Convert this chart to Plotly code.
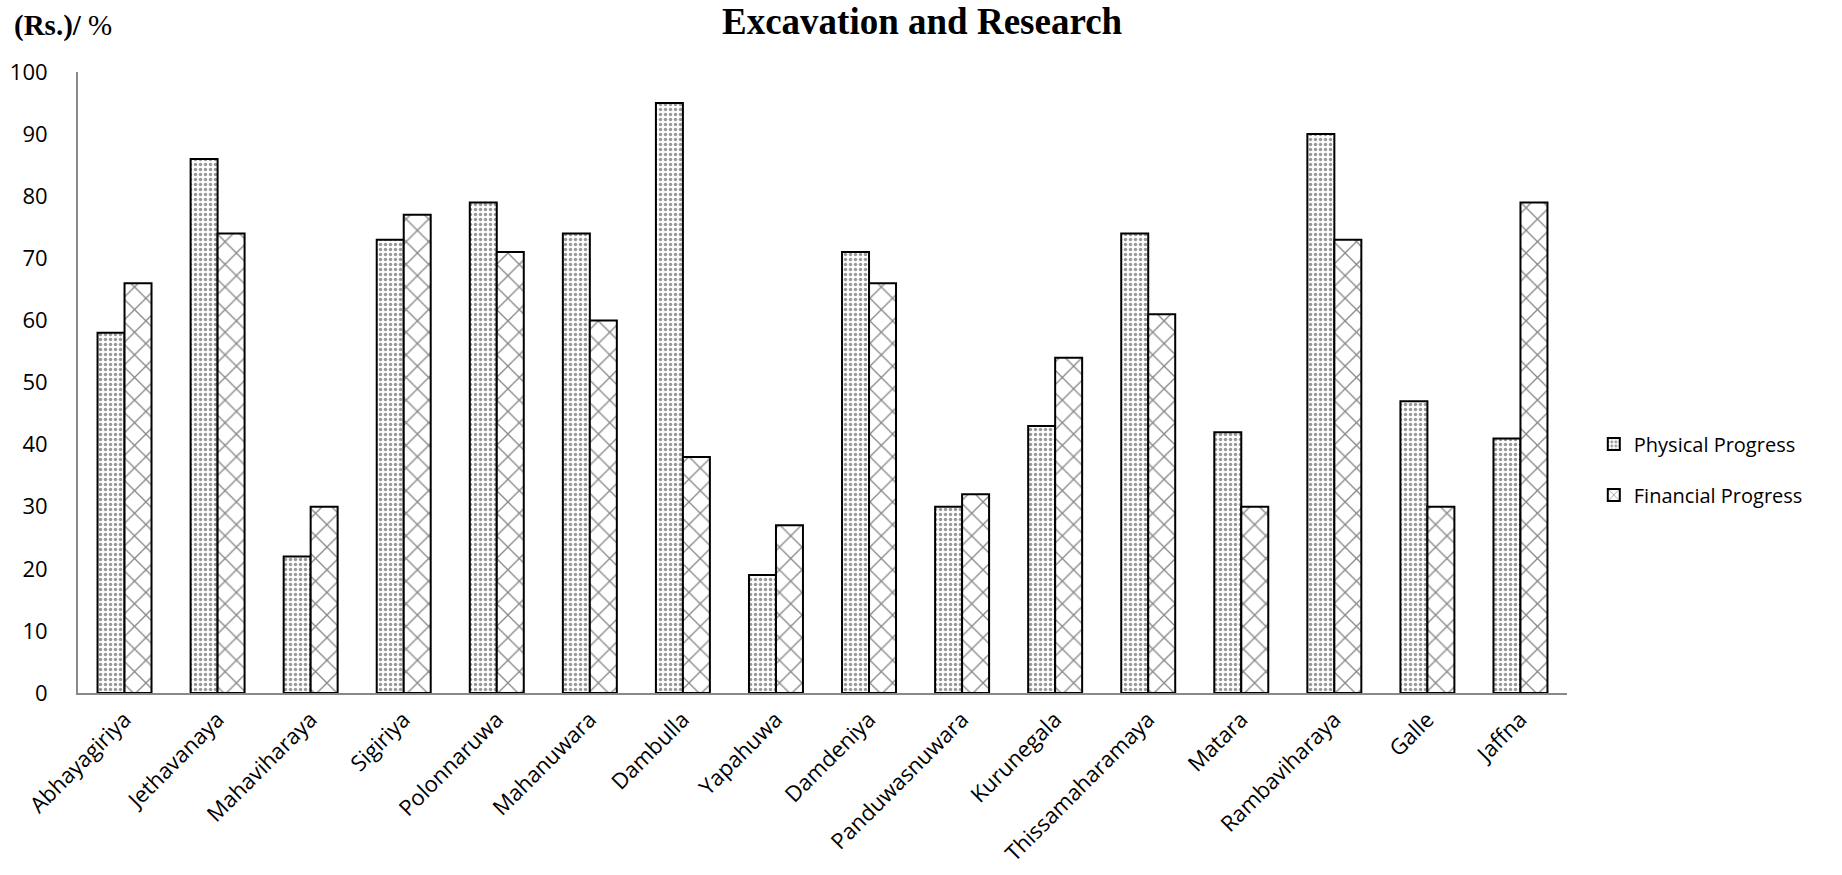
import plotly.graph_objects as go

# Sites and progress percentages
sites = ["Abhayagiriya", "Jethavanaya", "Mahaviharaya", "Sigiriya", "Polonnaruwa",
         "Mahanuwara", "Dambulla", "Yapahuwa", "Damdeniya", "Panduwasnuwara",
         "Kurunegala", "Thissamaharamaya", "Matara", "Rambaviharaya", "Galle", "Jaffna"]
physical_progress = [58, 86, 22, 73, 79, 74, 95, 19, 71, 30, 43, 74, 42, 90, 47, 41]
financial_progress = [66, 74, 30, 77, 71, 60, 38, 27, 66, 32, 54, 61, 30, 73, 30, 79]
y_ticks = [0, 10, 20, 30, 40, 50, 60, 70, 80, 90, 100]

FONT = "Open Sans"

fig = go.Figure()
fig.add_trace(go.Bar(
    x=sites, y=physical_progress, name="Physical Progress", legendgroup="phys",
    marker=dict(color="white", line=dict(color="black", width=2),
                pattern=dict(shape=".", fgcolor="#333333", bgcolor="white",
                             size=5, solidity=0.38)),
))
fig.add_trace(go.Bar(
    x=sites, y=financial_progress, name="Financial Progress", legendgroup="fin",
    marker=dict(color="white", line=dict(color="black", width=2),
                pattern=dict(shape="x", fgcolor="#111111", bgcolor="white",
                             size=16, solidity=0.16)),
))

fig.update_layout(
    width=1842, height=875,
    barmode="group", bargap=0.42, bargroupgap=0,
    plot_bgcolor="white", paper_bgcolor="white",
    margin=dict(l=78, r=275, t=72, b=182),
    font=dict(family=FONT, size=20, color="black"),
    showlegend=True,
    legend=dict(x=1.018, y=0.36, xanchor="left", yanchor="middle",
                font=dict(family=FONT, size=20), tracegroupgap=22,
                traceorder="grouped", itemsizing="constant"),
    xaxis=dict(showline=True, linecolor="#898989", linewidth=2,
               showgrid=False, ticks="", tickangle=-45,
               ticklabelstandoff=3, automargin=False,
               tickfont=dict(family=FONT, size=22)),
    yaxis=dict(range=[0, 100], tickvals=y_ticks, showline=True,
               linecolor="#898989", linewidth=2, showgrid=False,
               ticks="", ticklabelstandoff=24, automargin=False,
               tickfont=dict(family=FONT, size=22), zeroline=False),
    annotations=[
        dict(text="<b>Excavation and Research</b>", xref="paper", yref="paper",
             x=(922 - 78) / 1489, y=1 + (72 - 21) / 621, xanchor="center",
             yanchor="middle", showarrow=False,
             font=dict(family="Liberation Serif", size=37, color="black")),
        dict(text="<b>(Rs.)/</b> %", xref="paper", yref="paper",
             x=-(78 - 12) / 1489, y=1 + (72 - 25) / 621, xanchor="left",
             yanchor="middle", showarrow=False,
             font=dict(family="Liberation Serif", size=29, color="black")),
    ],
)

fig.write_html("out.html")
